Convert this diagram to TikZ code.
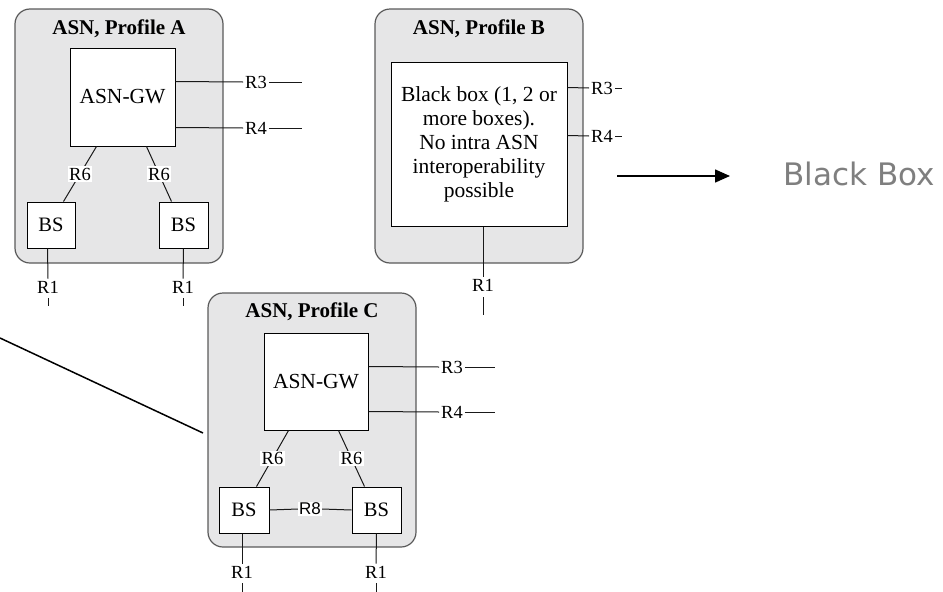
\documentclass[tikz,border=0pt]{standalone}
\usepackage{fontspec}
\setmainfont{Liberation Serif}
\newfontfamily\boxfont{DejaVu Sans}
\newfontfamily\labsans{Liberation Sans}
\usetikzlibrary{arrows.meta}
\definecolor{asnfill}{HTML}{E6E6E7}
\definecolor{asnedge}{HTML}{5A5A5A}
\definecolor{bbgray}{HTML}{7F7F7F}
\tikzset{
  asn/.style={draw=asnedge, fill=asnfill, line width=1.2pt, rounded corners=15pt,
    inner sep=0pt, minimum width=208pt, minimum height=254pt},
  asntitle/.style={font=\fontsize{21}{24}\selectfont\bfseries, inner sep=0pt},
  unit/.style={draw=black, fill=white, line width=1pt, inner sep=0pt,
    font=\fontsize{21.5}{24}\selectfont},
  bsbox/.style={unit, font=\fontsize{20.5}{24}\selectfont},
  rlab/.style={font=\fontsize{18.5}{20}\selectfont, inner sep=2pt},
  rlabw/.style={rlab, fill=white, inner sep=1.5pt},
  link/.style={draw=black!90, line width=1pt},
}
\begin{document}
\begin{tikzpicture}[x=1pt, y=-1pt]
\useasboundingbox (0,0) rectangle (943,592);

% ---------------- Profile A ----------------
\node[asn] (outA) at (119,136) {};
\node[asntitle] (titA) at (119,29) {ASN, Profile A};
\node[unit, minimum width=105pt, minimum height=98pt] (gwA) at (122.5,97) {ASN-GW};
\node[bsbox, minimum width=48pt, minimum height=46pt] (bsA1) at (51,225) {BS};
\node[bsbox, minimum width=49pt, minimum height=46pt] (bsA2) at (183.5,225) {BS};
\node[rlab] (r3A) at (256,82) {R3};
\node[rlab] (r4A) at (256,128) {R4};
\coordinate (r3Aend) at (302,82);
\coordinate (r4Aend) at (302,128);
\draw[link] ([yshift=-34pt]gwA.north east) -- (r3A.west);
\draw[link] (r3A.east) -- (r3Aend);
\draw[link] ([yshift=-80pt]gwA.north east) -- (r4A.west);
\draw[link] (r4A.east) -- (r4Aend);
\draw[link] ([xshift=27pt]gwA.south west) -- node[rlabw] (r6A1) {R6} ([xshift=37pt]bsA1.north west);
\draw[link] ([xshift=-29pt]gwA.south east) -- node[rlabw] (r6A2) {R6} ([xshift=13pt]bsA2.north west);
\node[rlab] (r1A1) at (48,287) {R1};
\node[rlab] (r1A2) at (183,287) {R1};
\draw[link] ([xshift=21pt]bsA1.south west) -- (r1A1.north);
\draw[link] (bsA2.south) -- (r1A2.north);
\coordinate (tA1a) at (48,298); \coordinate (tA1b) at (48,306);
\coordinate (tA2a) at (183,298); \coordinate (tA2b) at (183,306);
\draw[link] (tA1a) -- (tA1b);
\draw[link] (tA2a) -- (tA2b);

% ---------------- Profile B ----------------
\node[asn] (outB) at (479,136) {};
\node[asntitle] (titB) at (479,29) {ASN, Profile B};
\node[unit, minimum width=176pt, minimum height=164pt, align=center,
      font=\fontsize{21.5}{24}\selectfont] (bbB) at (479,144)
  {Black box (1, 2 or\\more boxes).\\No intra ASN\\interoperability\\possible};
\node[rlab] (r3B) at (602,88) {R3};
\node[rlab] (r4B) at (602,136) {R4};
\coordinate (r3Bend) at (622,88);
\coordinate (r4Bend) at (622,136);
\draw[link] ([yshift=-26pt]bbB.north east) -- (r3B.west);
\draw[link] (r3B.east) -- (r3Bend);
\draw[link] ([yshift=-74pt]bbB.north east) -- (r4B.west);
\draw[link] (r4B.east) -- (r4Bend);
\node[rlab] (r1B) at (483,285) {R1};
\draw[link] ([xshift=4pt]bbB.south) -- (r1B.north);
\coordinate (tBa) at (483,297); \coordinate (tBb) at (483,315);
\draw[link] (tBa) -- (tBb);

% ---------------- Profile C ----------------
\node[asn] (outC) at (312,420) {};
\node[asntitle] (titC) at (312,312) {ASN, Profile C};
\node[unit, minimum width=104pt, minimum height=97pt] (gwC) at (316,381.5) {ASN-GW};
\node[bsbox, minimum width=50pt, minimum height=46pt] (bsC1) at (244,510) {BS};
\node[bsbox, minimum width=49pt, minimum height=46pt] (bsC2) at (376.5,510) {BS};
\node[rlab] (r3C) at (452,367) {R3};
\node[rlab] (r4C) at (452,412) {R4};
\coordinate (r3Cend) at (495,367);
\coordinate (r4Cend) at (495,412);
\draw[link] ([yshift=-34pt]gwC.north east) -- (r3C.west);
\draw[link] (r3C.east) -- (r3Cend);
\draw[link] ([yshift=-79pt]gwC.north east) -- (r4C.west);
\draw[link] (r4C.east) -- (r4Cend);
\draw[link] ([xshift=25pt]gwC.south west) -- node[rlabw] (r6C1) {R6} ([xshift=38pt]bsC1.north west);
\draw[link] ([xshift=-30pt]gwC.south east) -- node[rlabw] (r6C2) {R6} ([xshift=13pt]bsC2.north west);
\node[rlabw, font=\labsans\fontsize{17}{18}\selectfont, inner sep=1pt] (r8C) at (310,509) {R8};
\draw[link] (bsC1.east) -- (r8C.west);
\draw[link] (r8C.east) -- (bsC2.west);
\node[rlab] (r1C1) at (242,572) {R1};
\node[rlab] (r1C2) at (376,572) {R1};
\draw[link] ([xshift=-2pt]bsC1.south) -- (r1C1.north);
\draw[link] (bsC2.south) -- (r1C2.north);
\coordinate (tC1a) at (242,583); \coordinate (tC1b) at (242,592);
\coordinate (tC2a) at (376,583); \coordinate (tC2b) at (376,592);
\draw[link] (tC1a) -- (tC1b);
\draw[link] (tC2a) -- (tC2b);

% ---------------- pointer line and arrow ----------------
\coordinate (diagA) at (0,338);
\coordinate (diagB) at (203,433);
\draw[black, line width=1.5pt] (diagA) -- (diagB);

\coordinate (arrA) at (617,176);
\node[font=\boxfont\fontsize{31}{36}\selectfont, text=bbgray, inner sep=0pt] (bbtext) at (859,174) {Black Box};
\coordinate (arrB) at (730,176);
\draw[black, line width=1.5pt, -{Triangle[length=15pt,width=13pt]}] (arrA) -- (arrB);
\end{tikzpicture}
\end{document}
